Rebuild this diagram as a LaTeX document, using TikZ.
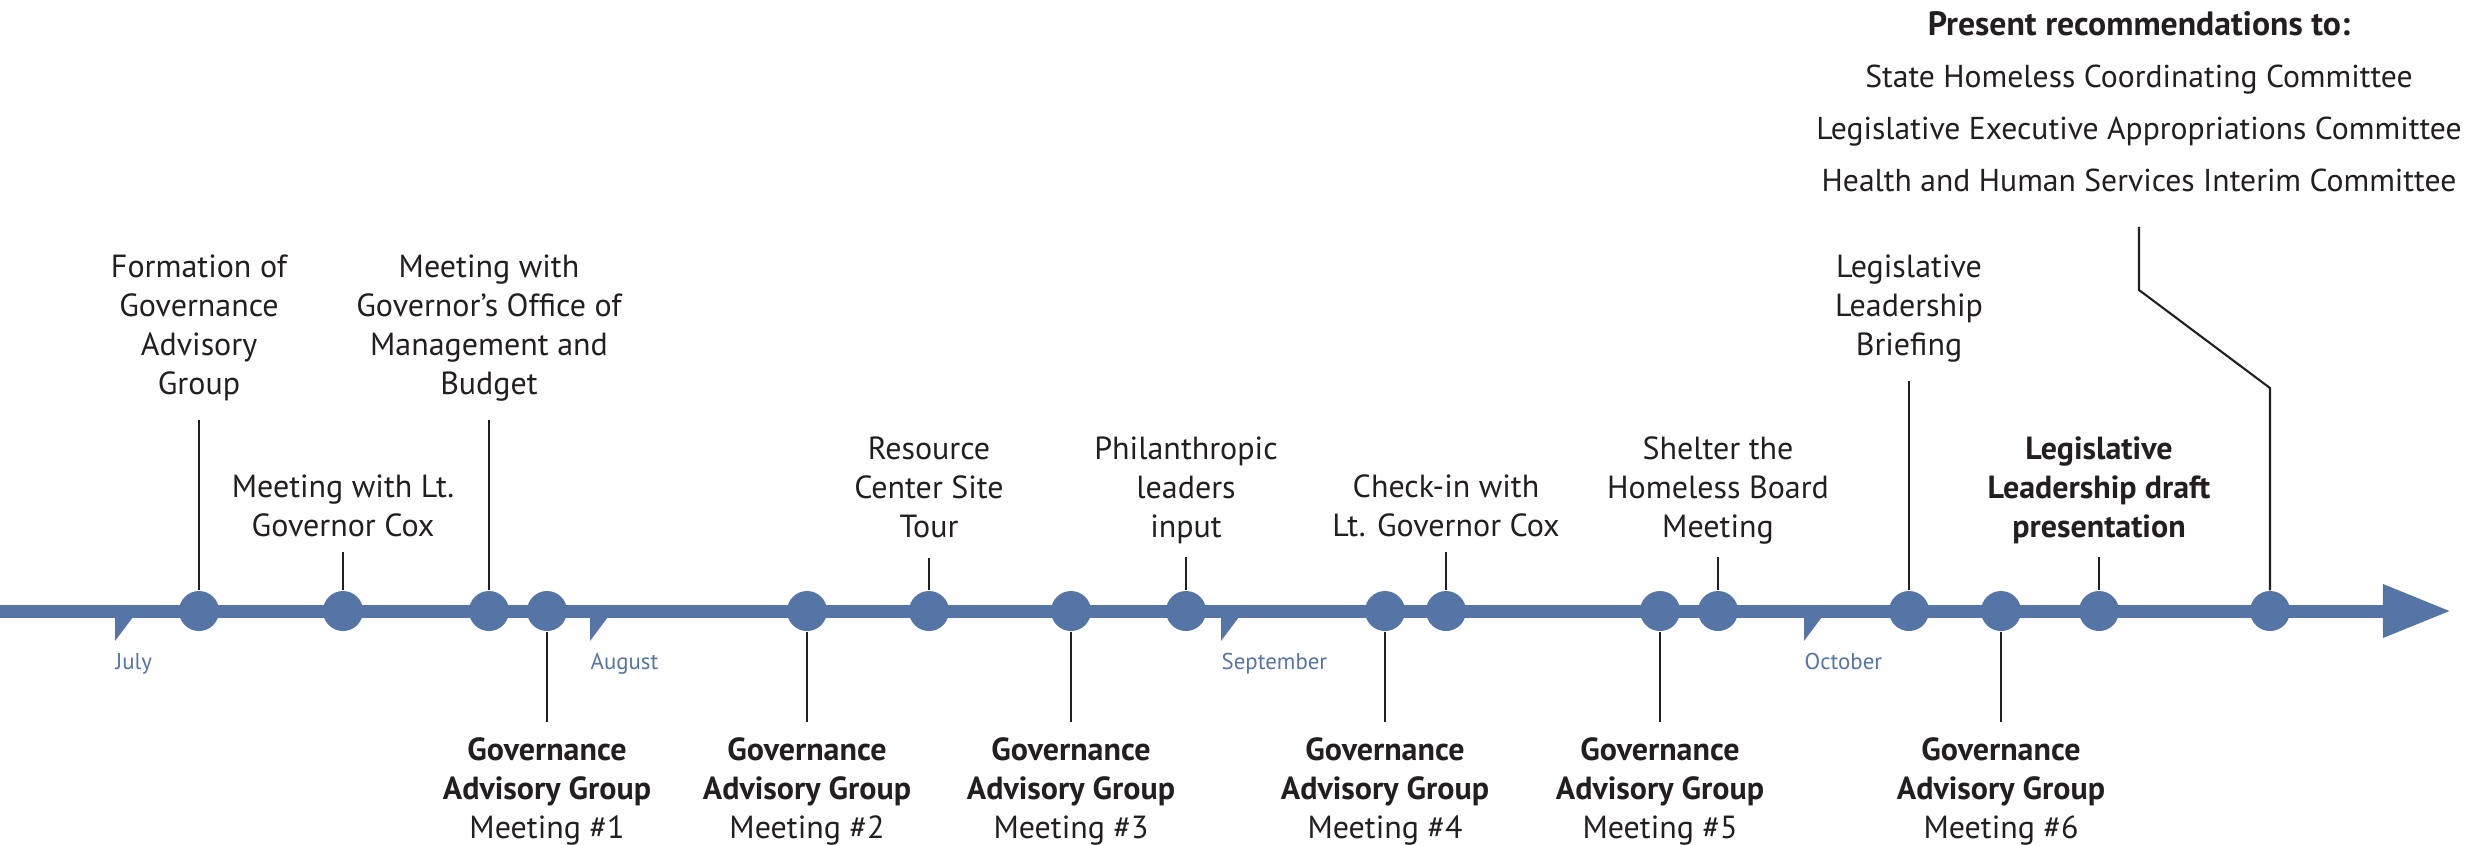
\documentclass[tikz,border=0pt]{standalone}
\usepackage{fontspec}
\setmainfont{PT Sans}
\usetikzlibrary{arrows.meta}
\definecolor{tlblue}{RGB}{85,117,166}
\definecolor{txt}{RGB}{35,31,32}

\begin{document}
\begin{tikzpicture}[x=0.01cm, y=-0.01cm,
    timeline/.style={draw=tlblue, line width=0.13cm, -{Triangle[length=0.68cm,width=0.5cm]}},
    dot/.style={circle, fill=tlblue, inner sep=0pt, minimum size=0.4cm},
    event/.style={align=center, inner sep=0pt, anchor=north, text=txt, font=\fontsize{9.1}{11.1}\selectfont},
    gag/.style={event},
    recslist/.style={event, font=\fontsize{9}{14.8}\selectfont},
    monthlabel/.style={anchor=base west, inner sep=0pt, text=tlblue, font=\fontsize{6.5}{8}\selectfont},
    stick/.style={draw=txt, line width=0.6pt}]
    \useasboundingbox (0,0) rectangle (2481,844);

    % the time axis
    \coordinate (start) at (0,611);
    \coordinate (tip) at (2451,611);
    \draw[timeline] (start) -- (tip);
    \foreach \x/\m in {115/July,590/August,1221/September,1804/October} {
      \fill[tlblue] (\x,617) -- ++(0,24) -- ++(18,-24) -- cycle;
      \node[monthlabel] (m\m) at (\x,669) {\m};
    }

    % events on the axis
    \foreach \x [count=\i] in {199,343,489,547,807,929,1071,1186,1385,1446,1660,1718,1909,2001,2099,2270}
      \node[dot] (d\i) at (\x,611) {};

    % above the axis
    \node[event] (formation) at (d1 |- 0,254) {Formation of\\Governance\\Advisory\\Group};
    \node[event] (ltgov) at (d2 |- 0,474) {Meeting with Lt.\\Governor Cox};
    \node[event] (gomb) at (d3 |- 0,254) {Meeting with\\Governor’s Office of\\Management and\\Budget};
    \node[event] (tour) at (d6 |- 0,436) {Resource\\Center Site\\Tour};
    \node[event] (philan) at (d8 |- 0,436) {Philanthropic\\leaders\\input};
    \node[event] (checkin) at (d10 |- 0,474) {Check-in with\\Lt. Governor Cox};
    \node[event] (shelter) at (d12 |- 0,436) {Shelter the\\Homeless Board\\Meeting};
    \node[event] (briefing) at (d13 |- 0,254) {Legislative\\Leadership\\Briefing};
    \node[event, font=\fontsize{9.1}{11.1}\selectfont\bfseries] (draft) at (d15 |- 0,436) {Legislative\\Leadership draft\\presentation};
    \node[recslist] (recs) at (2139,11) {{\fontsize{9.6}{14.8}\selectfont\bfseries Present recommendations to:}\\State Homeless Coordinating Committee\\Legislative Executive Appropriations Committee\\Health and Human Services Interim Committee};

    \foreach \d/\lab/\gap in {1/formation/18,2/ltgov/14,3/gomb/18,6/tour/19,8/philan/12,10/checkin/14,12/shelter/12,13/briefing/18,15/draft/12}
      \draw[stick, shorten >=\gap*0.01cm] (d\d.north) -- (\lab.south);

    \coordinate (bend1) at (2139,290);
    \coordinate (bend2) at (2270,388);
    \draw[stick, shorten <=0.34cm] (recs.south) -- (bend1) -- (bend2) -- (d16.north);

    % below the axis
    \foreach \d/\n in {4/1,5/2,7/3,9/4,11/5,14/6} {
      \node[gag] (gag\n) at (d\d |- 0,737) {\textbf{Governance}\\\textbf{Advisory Group}\\Meeting \#\n};
      \draw[stick, shorten >=0.15cm] (d\d.south) -- (gag\n.north);
    }
\end{tikzpicture}
\end{document}
